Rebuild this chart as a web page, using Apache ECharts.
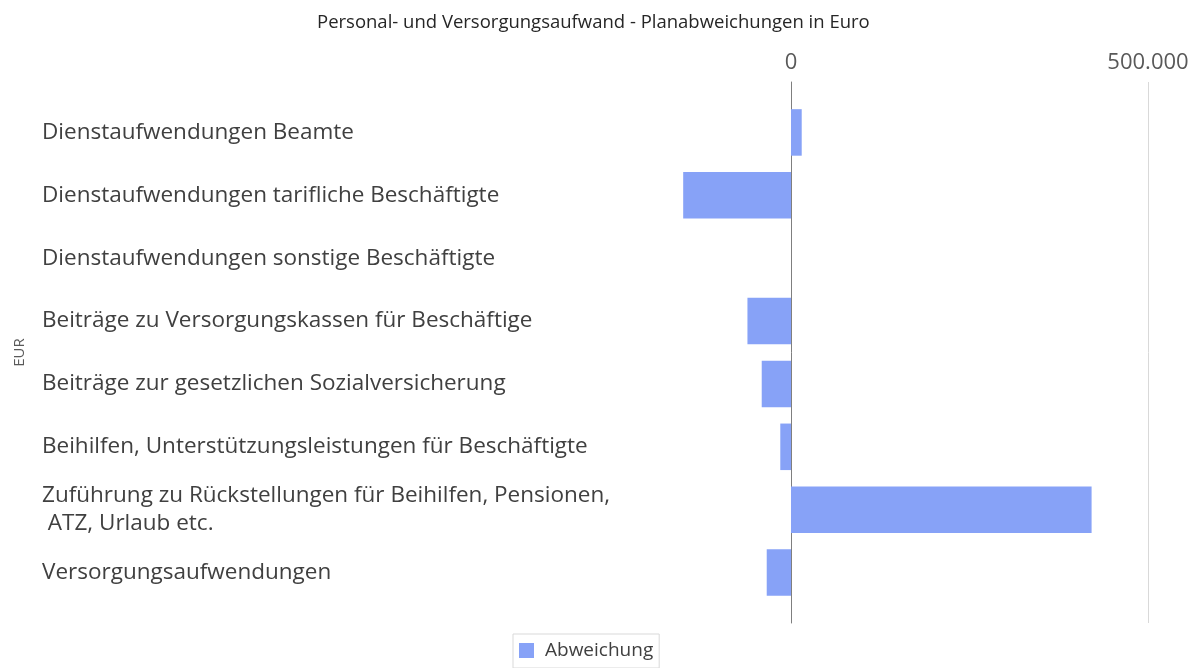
<!DOCTYPE html>
<html>
<head>
<meta charset="utf-8">
<script src="https://cdn.jsdelivr.net/npm/echarts@6/dist/echarts.min.js"></script>
<style>
  html, body { margin: 0; padding: 0; background: #fff; }
  #chart { width: 1200px; height: 668px; }
</style>
</head>
<body>
<div id="chart"></div>
<script>
// Planabweichungen je Position (Euro)
const categories = [
  'Dienstaufwendungen Beamte',
  'Dienstaufwendungen tarifliche Beschäftigte',
  'Dienstaufwendungen sonstige Beschäftigte',
  'Beiträge zu Versorgungskassen für Beschäftige',
  'Beiträge zur gesetzlichen Sozialversicherung',
  'Beihilfen, Unterstützungsleistungen für Beschäftigte',
  'Zuführung zu Rückstellungen für Beihilfen, Pensionen,\n ATZ, Urlaub etc.',
  'Versorgungsaufwendungen'
];
const deviations = [15000, -151000, 0, -61000, -41000, -15000, 421000, -34000];
const xMin = -500000;
const xMax = 500000;
const xStep = 500000;

const font = '"Open Sans", "Noto Sans", sans-serif';
const fmt = (v) => v < 0 ? '' : String(v).replace(/\B(?=(\d{3})+(?!\d))/g, '.');

var myChart = echarts.init(document.getElementById('chart'));

var option = {
  animation: false,
  textStyle: { fontFamily: font },
  title: {
    text: 'Personal- und Versorgungsaufwand - Planabweichungen in Euro',
    left: 312,
    top: 8,
    textStyle: { fontFamily: font, fontSize: 18.5, fontWeight: 'normal', color: '#262626' }
  },
  legend: {
    data: ['Abweichung'],
    left: 513,
    top: 634,
    icon: 'rect',
    itemWidth: 15,
    itemHeight: 15,
    padding: [7, 6, 8, 6],
    borderColor: '#d9d9d9',
    borderWidth: 1,
    textStyle: { fontFamily: font, fontSize: 19, color: '#404040', padding: [0, 0, 0, 6] }
  },
  grid: [
    { left: 434, right: 52, top: 82, bottom: 45 },
    { left: 434, right: 52, top: 101, bottom: 64 }
  ],
  xAxis: [
    {
      gridIndex: 0,
      type: 'value',
      position: 'top',
      min: xMin,
      max: xMax,
      interval: xStep,
      axisLine: { show: false, onZero: false },
      axisTick: { show: false },
      axisLabel: { formatter: fmt, fontSize: 22, color: '#595959', margin: 8 },
      splitLine: { lineStyle: { color: ['transparent', '#d9d9d9', '#d9d9d9'] } }
    },
    {
      gridIndex: 1,
      type: 'value',
      min: xMin,
      max: xMax,
      interval: xStep,
      show: false
    }
  ],
  yAxis: [
    {
      gridIndex: 0,
      type: 'value',
      axisLine: { show: true, onZero: true, lineStyle: { color: '#7f7f7f' } },
      axisTick: { show: false },
      axisLabel: { show: false },
      splitLine: { show: false }
    },
    {
      gridIndex: 1,
      type: 'category',
      inverse: true,
      data: categories,
      name: 'EUR',
      nameLocation: 'middle',
      nameRotate: 90,
      nameGap: 407,
      nameTextStyle: { fontFamily: font, fontSize: 15, color: '#595959' },
      axisLine: { show: false, onZero: false },
      axisTick: { show: false },
      axisLabel: {
        align: 'left',
        margin: 392,
        fontSize: 22.5,
        lineHeight: 28,
        padding: [12, 0, 0, 0],
        color: '#404040'
      }
    }
  ],
  series: [
    {
      name: 'Abweichung',
      type: 'bar',
      xAxisIndex: 1,
      yAxisIndex: 1,
      barWidth: '74%',
      itemStyle: { color: '#87a2f7' },
      data: deviations
    }
  ]
};

myChart.setOption(option);
</script>
</body>
</html>
